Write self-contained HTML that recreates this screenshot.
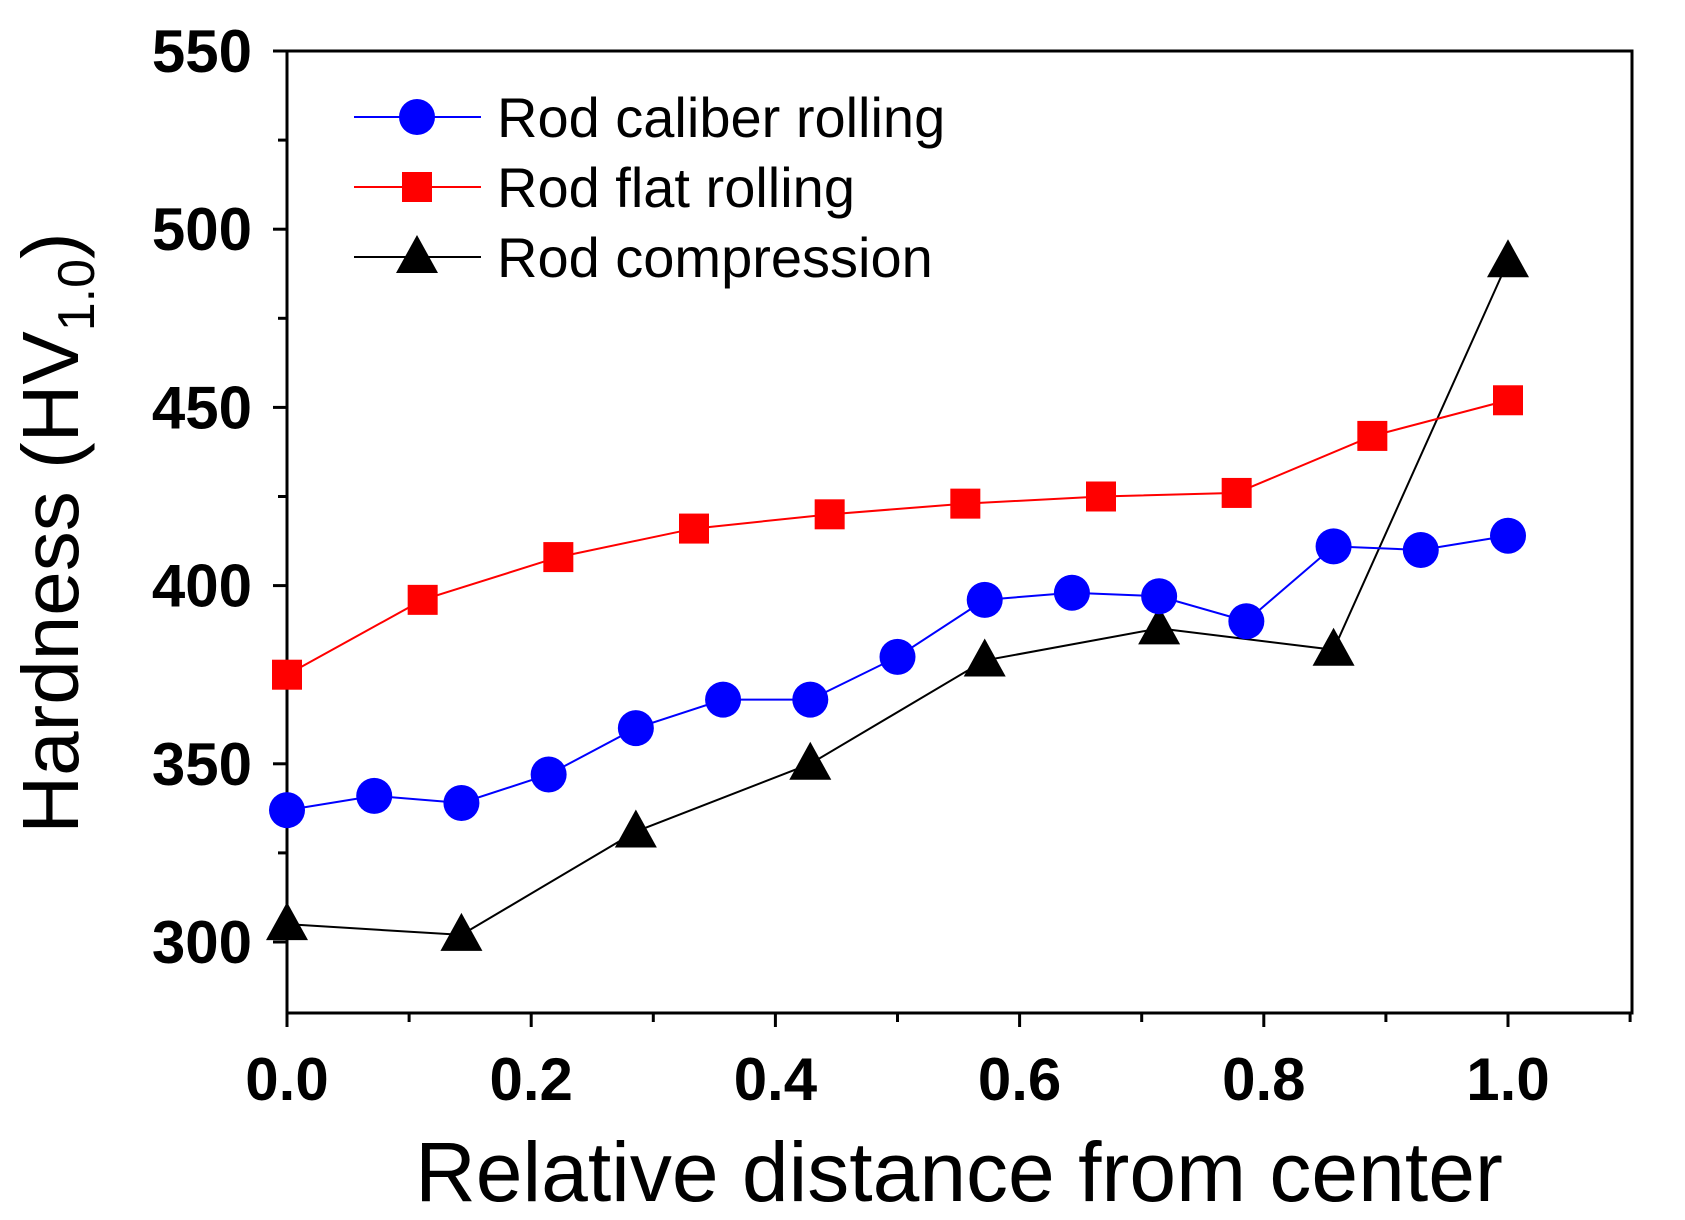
<!DOCTYPE html>
<html><head><meta charset="utf-8"><style>
html,body{margin:0;padding:0;background:#fff}
svg{display:block}
text{font-family:"Liberation Sans",Arial,sans-serif}
</style></head><body>
<svg id="chart" width="1685" height="1220" xmlns="http://www.w3.org/2000/svg">
<g id="axes"></g><g id="series"></g><g id="legend"></g>
<text x="959" y="1201" font-size="84" text-anchor="middle">Relative distance from center</text>
<text transform="translate(78,533) rotate(-90)" font-size="80" text-anchor="middle">Hardness (HV<tspan font-size="52" dy="16">1.0</tspan><tspan dy="-16">)</tspan></text>
</svg>
<script>
const blueX=[0,1/14,2/14,3/14,4/14,5/14,6/14,7/14,8/14,9/14,10/14,11/14,12/14,13/14,1];
const blueY=[337,341,339,347,360,368,368,380,396,398,397,390,411,410,414];
const redX=[0,1/9,2/9,3/9,4/9,5/9,6/9,7/9,8/9,1];
const redY=[375,396,408,416,420,423,425,426,442,452];
const blackX=[0,1/7,2/7,3/7,4/7,5/7,6/7,1];
const blackY=[305,302,331,350,379,388,382,491];
const xTicks=["0.0","0.2","0.4","0.6","0.8","1.0"];
const yTicks=["300","350","400","450","500","550"];
const NS="http://www.w3.org/2000/svg";
const L=287,R=1632,T=51,B=1013;
const X=v=>287+v*(1508-287);
const Y=v=>942-(v-300)*(942-51)/250;
function el(tag,attrs,parent){const e=document.createElementNS(NS,tag);for(const k in attrs)e.setAttribute(k,attrs[k]);parent.appendChild(e);return e;}
const ax=document.getElementById('axes');
const frame=el('rect',{x:L,y:T,width:R-L,height:B-T,fill:'none',stroke:'#000','stroke-width':3},ax);


for(let i=0;i<=11;i++){const v=i/10;const maj=i%2===0;
 const t=el('line',{x1:X(v),x2:X(v),y1:B,y2:B+(maj?14:9),stroke:'#000','stroke-width':3},ax);
 
 }
xTicks.forEach(s=>{const t=el('text',{x:X(parseFloat(s)),y:1100,'font-size':60,'font-weight':'bold','text-anchor':'middle'},ax);t.textContent=s;
 
 });
for(let v=300;v<=550;v+=25){const maj=v%50===0;
 const t=el('line',{x1:L-(maj?14:9),x2:L,y1:Y(v),y2:Y(v),stroke:'#000','stroke-width':3},ax);
 
 }
yTicks.forEach(s=>{const t=el('text',{x:252,y:Y(+s)+21,'font-size':60,'font-weight':'bold','text-anchor':'end'},ax);t.textContent=s;
 
 });
const sg=document.getElementById('series');
function marker(kind,x,y,color,parent){
 if(kind==='circle')return el('circle',{cx:x,cy:y,r:18,fill:color},parent);
 if(kind==='square')return el('rect',{x:x-15,y:y-15,width:30,height:30,fill:color},parent);
 return el('polygon',{points:`${x},${y-22} ${x-21},${y+16} ${x+21},${y+16}`,fill:color},parent);}
function series(xs,ys,color,kind,name){
 const g=el('g',{},sg);
 
 
 el('polyline',{points:xs.map((x,i)=>X(x)+','+Y(ys[i])).join(' '),fill:'none',stroke:color,'stroke-width':2},g);
 xs.forEach((x,i)=>{const m=marker(kind,X(x),Y(ys[i]),color,g);
  
  });}
series(blackX,blackY,'#000','tri','rod-compression-series');
series(redX,redY,'#f00','square','rod-flat-rolling-series');
series(blueX,blueY,'#00f','circle','rod-caliber-rolling-series');
const lg=document.getElementById('legend');
[['Rod caliber rolling','#00f','circle',117],['Rod flat rolling','#f00','square',187],['Rod compression','#000','tri',257]].forEach(([txt,c,k,y])=>{
 const g=el('g',{},lg);
 
 
 el('line',{x1:354,x2:481,y1:y,y2:y,stroke:c,'stroke-width':2},g);
 marker(k,417,y,c,g);
 const t=el('text',{x:497,y:y+20,'font-size':56},g);t.textContent=txt;});
</script>
</body></html>
